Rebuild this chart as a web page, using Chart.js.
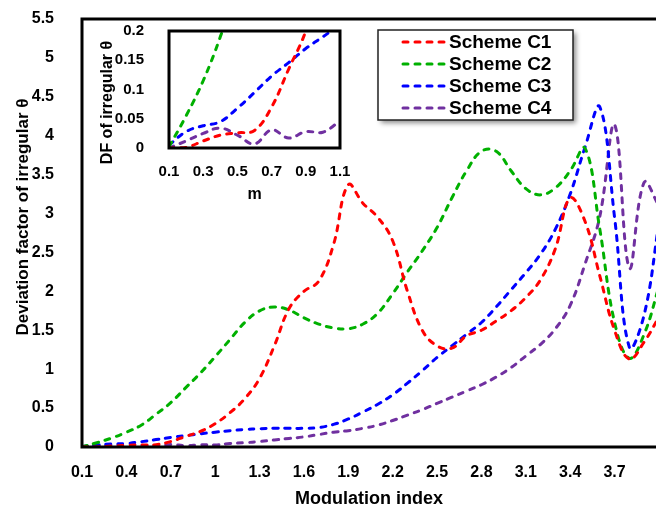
<!DOCTYPE html>
<html lang="en">
<head>
<meta charset="UTF-8">
<title>Deviation factor of irregular θ</title>
<script src="https://cdn.jsdelivr.net/npm/chart.js"></script>
<style>
    body { margin: 0; background: #fff; }
    .wrap { position: relative; width: 656px; height: 507px; }
    #mainChart { position: absolute; left: 0; top: 0; }
    #insetChart { position: absolute; left: 90px; top: 20px; }
</style>
</head>
<body>
<div class="wrap">
    <canvas id="mainChart" width="656" height="507"></canvas>
    <canvas id="insetChart" width="260" height="190"></canvas>
</div>
<script>
// modulation index m
const modIndex = [0.1, 0.2, 0.3, 0.4, 0.5, 0.6, 0.7, 0.8, 0.9, 1.0,
                  1.1, 1.2, 1.3, 1.4, 1.5, 1.6, 1.7, 1.8, 1.9, 2.0,
                  2.1, 2.2, 2.3, 2.4, 2.5, 2.6, 2.7, 2.8, 2.9, 3.0,
                  3.1, 3.2, 3.3, 3.4, 3.5, 3.6, 3.7, 3.8, 3.9, 4.0];

const schemeC1 = [0, 0.001, 0.012, 0.022, 0.026, 0.03, 0.07, 0.135, 0.2, 0.3,
                  0.44, 0.62, 0.88, 1.3, 1.78, 2.0, 2.13, 2.6, 3.37, 3.13,
                  2.95, 2.65, 2.0, 1.5, 1.3, 1.27, 1.43, 1.5, 1.62, 1.75,
                  1.92, 2.15, 2.55, 3.2, 2.9, 2.2, 1.5, 1.13, 1.35, 1.67];

const schemeC2 = [0.002, 0.055, 0.115, 0.19, 0.28, 0.42, 0.57, 0.76, 0.95, 1.16,
                  1.38, 1.6, 1.75, 1.8, 1.76, 1.66, 1.58, 1.53, 1.52, 1.58,
                  1.72, 1.97, 2.25, 2.52, 2.82, 3.2, 3.55, 3.8, 3.8, 3.55,
                  3.32, 3.24, 3.33, 3.55, 3.84, 2.8, 1.6, 1.14, 1.45, 2.06];

const schemeC3 = [0.005, 0.028, 0.038, 0.045, 0.068, 0.095, 0.123, 0.146, 0.17, 0.19,
                  0.21, 0.225, 0.235, 0.24, 0.24, 0.24, 0.25, 0.29, 0.36, 0.45,
                  0.55, 0.67, 0.82, 0.98, 1.15, 1.3, 1.45, 1.6, 1.8, 2.02,
                  2.24, 2.48, 2.8, 3.25, 3.85, 4.37, 2.95, 1.28, 1.7, 2.88];

const schemeC4 = [0, 0.012, 0.025, 0.034, 0.022, 0.007, 0.031, 0.017, 0.028, 0.027,
                  0.045, 0.055, 0.07, 0.09, 0.11, 0.13, 0.16, 0.19, 0.21, 0.24,
                  0.28, 0.34, 0.41, 0.48, 0.56, 0.64, 0.72, 0.8, 0.9, 1.02,
                  1.17, 1.32, 1.52, 1.82, 2.35, 2.96, 4.14, 2.3, 3.4, 3.1];

const seriesNames = ['Scheme C1', 'Scheme C2', 'Scheme C3', 'Scheme C4'];
const seriesColors = ['#FF0000', '#00B000', '#0000FF', '#7030A0'];

const mainXTicks = [0.1, 0.4, 0.7, 1.0, 1.3, 1.6, 1.9, 2.2, 2.5, 2.8, 3.1, 3.4, 3.7];
const mainYTicks = [0, 0.5, 1, 1.5, 2, 2.5, 3, 3.5, 4, 4.5, 5, 5.5];
const insetXTicks = [0.1, 0.3, 0.5, 0.7, 0.9, 1.1];
const insetYTicks = [0, 0.05, 0.1, 0.15, 0.2];

const FONT = "'Liberation Sans', Arial, sans-serif";

function makeDatasets() {
    return [schemeC1, schemeC2, schemeC3, schemeC4].map((vals, i) => ({
        label: seriesNames[i],
        data: modIndex.map((m, j) => ({ x: m, y: vals[j] })),
        borderColor: seriesColors[i],
        borderWidth: 3,
        borderDash: [5, 7],
        borderCapStyle: 'round',
        pointRadius: 0,
        tension: 0.4,
        fill: false
    }));
}

function fmt(v) {
    return String(Math.round(v * 100) / 100);
}

// keep the plot box where the layout padding puts it
function noLabelPadding(s) {
    s.paddingTop = 0;
    s.paddingBottom = 0;
    s.paddingLeft = 0;
    s.paddingRight = 0;
}

// black box lines around the plot area
const frame = {
    id: 'frame',
    afterDatasetsDraw(chart, args, opts) {
        const { ctx, chartArea: a } = chart;
        ctx.save();
        ctx.strokeStyle = '#000';
        ctx.lineWidth = opts.width;
        ctx.lineCap = 'square';
        ctx.beginPath();
        if (opts.sides.includes('top')) { ctx.moveTo(a.left, a.top); ctx.lineTo(a.right, a.top); }
        if (opts.sides.includes('right')) { ctx.moveTo(a.right, a.top); ctx.lineTo(a.right, a.bottom); }
        if (opts.sides.includes('bottom')) { ctx.moveTo(a.left, a.bottom); ctx.lineTo(a.right, a.bottom); }
        if (opts.sides.includes('left')) { ctx.moveTo(a.left, a.top); ctx.lineTo(a.left, a.bottom); }
        ctx.stroke();
        ctx.restore();
    }
};

// rotated y-axis caption, nudged off the plot centre
const sideTitle = {
    id: 'sideTitle',
    afterDraw(chart, args, opts) {
        const { ctx, chartArea: a } = chart;
        ctx.save();
        ctx.translate(opts.x, (a.top + a.bottom) / 2 + opts.shift);
        ctx.rotate(-Math.PI / 2);
        ctx.font = 'bold ' + opts.size + 'px ' + FONT;
        ctx.fillStyle = '#000';
        ctx.textAlign = 'center';
        ctx.textBaseline = 'middle';
        ctx.fillText(opts.text, 0, 0);
        ctx.restore();
    }
};

// legend box with shadow, drawn inside the plot
const legendBox = {
    id: 'legendBox',
    afterDraw(chart, args, opts) {
        const { ctx, chartArea } = chart;
        const x = chartArea.left + opts.left;
        const y = chartArea.top + opts.top;
        ctx.save();
        ctx.shadowColor = 'rgba(0,0,0,0.45)';
        ctx.shadowBlur = 5;
        ctx.shadowOffsetX = 3;
        ctx.shadowOffsetY = 3;
        ctx.fillStyle = '#fff';
        ctx.fillRect(x, y, opts.width, opts.height);
        ctx.shadowColor = 'transparent';
        ctx.lineWidth = 1.5;
        ctx.strokeStyle = '#222';
        ctx.strokeRect(x, y, opts.width, opts.height);
        chart.data.datasets.forEach((ds, i) => {
            const cy = y + opts.rowTop + i * opts.rowGap;
            ctx.setLineDash(ds.borderDash);
            ctx.lineCap = ds.borderCapStyle;
            ctx.strokeStyle = ds.borderColor;
            ctx.lineWidth = ds.borderWidth;
            ctx.beginPath();
            ctx.moveTo(x + 25, cy);
            ctx.lineTo(x + 67, cy);
            ctx.stroke();
            ctx.setLineDash([]);
            ctx.fillStyle = '#000';
            ctx.font = 'bold 19px ' + FONT;
            ctx.textBaseline = 'middle';
            ctx.fillText(ds.label, x + 71, cy + 1);
        });
        ctx.restore();
    }
};

new Chart(document.getElementById('mainChart'), {
    type: 'line',
    data: { datasets: makeDatasets() },
    plugins: [frame, legendBox, sideTitle],
    options: {
        responsive: false,
        animation: false,
        layout: { padding: { top: 19, right: 0, bottom: 0, left: 0 } },
        plugins: {
            legend: { display: false },
            tooltip: { enabled: false },
            frame: { width: 3, sides: ['top', 'left', 'bottom'] },
            legendBox: { left: 296, top: 11, width: 195, height: 90, rowTop: 12, rowGap: 22 },
            sideTitle: { text: 'Deviation factor of irregular θ', x: 23, shift: -16, size: 17 }
        },
        scales: {
            x: {
                type: 'linear',
                min: 0.1,
                max: 3.98,
                grid: { display: false },
                border: { display: false },
                afterBuildTicks: s => { s.ticks = mainXTicks.map(v => ({ value: v })); },
                afterFit: s => { s.height = 60; noLabelPadding(s); },
                ticks: {
                    padding: 8,
                    maxRotation: 0,
                    autoSkip: false,
                    color: '#000',
                    font: { family: FONT, size: 16, weight: 'bold' },
                    callback: v => fmt(v)
                },
                title: {
                    display: true,
                    text: 'Modulation index',
                    color: '#000',
                    padding: { top: 0, bottom: -1 },
                    font: { family: FONT, size: 18, weight: 'bold', lineHeight: 1 }
                }
            },
            y: {
                min: 0,
                max: 5.5,
                grid: { display: false },
                border: { display: false },
                afterBuildTicks: s => { s.ticks = mainYTicks.map(v => ({ value: v })); },
                afterFit: s => { s.width = 82; noLabelPadding(s); },
                ticks: {
                    padding: 20,
                    color: '#000',
                    font: { family: FONT, size: 16, weight: 'bold' },
                    callback: v => fmt(v)
                }
            }
        }
    }
});

// zoomed view of the low-m region
new Chart(document.getElementById('insetChart'), {
    type: 'line',
    data: { datasets: makeDatasets() },
    plugins: [frame, sideTitle],
    options: {
        responsive: false,
        animation: false,
        layout: { padding: { top: 11, right: 10, bottom: 0, left: 0 } },
        plugins: {
            legend: { display: false },
            tooltip: { enabled: false },
            frame: { width: 3, sides: ['top', 'right', 'bottom', 'left'] },
            sideTitle: { text: 'DF of irregular θ', x: 18, shift: 13, size: 16 }
        },
        scales: {
            x: {
                type: 'linear',
                min: 0.1,
                max: 1.1,
                grid: { display: false },
                border: { display: false },
                afterBuildTicks: s => { s.ticks = insetXTicks.map(v => ({ value: v })); },
                afterFit: s => { s.height = 62; noLabelPadding(s); },
                ticks: {
                    padding: 7,
                    maxRotation: 0,
                    autoSkip: false,
                    color: '#000',
                    font: { family: FONT, size: 15, weight: 'bold' },
                    callback: v => fmt(v)
                },
                title: {
                    display: true,
                    text: 'm',
                    color: '#000',
                    padding: { top: 0, bottom: 6 },
                    font: { family: FONT, size: 16, weight: 'bold' }
                }
            },
            y: {
                min: 0,
                max: 0.2,
                grid: { display: false },
                border: { display: false },
                afterBuildTicks: s => { s.ticks = insetYTicks.map(v => ({ value: v })); },
                afterFit: s => { s.width = 79; noLabelPadding(s); },
                ticks: {
                    padding: 17,
                    color: '#000',
                    font: { family: FONT, size: 15, weight: 'bold' },
                    callback: v => fmt(v)
                }
            }
        }
    }
});
</script>
</body>
</html>
